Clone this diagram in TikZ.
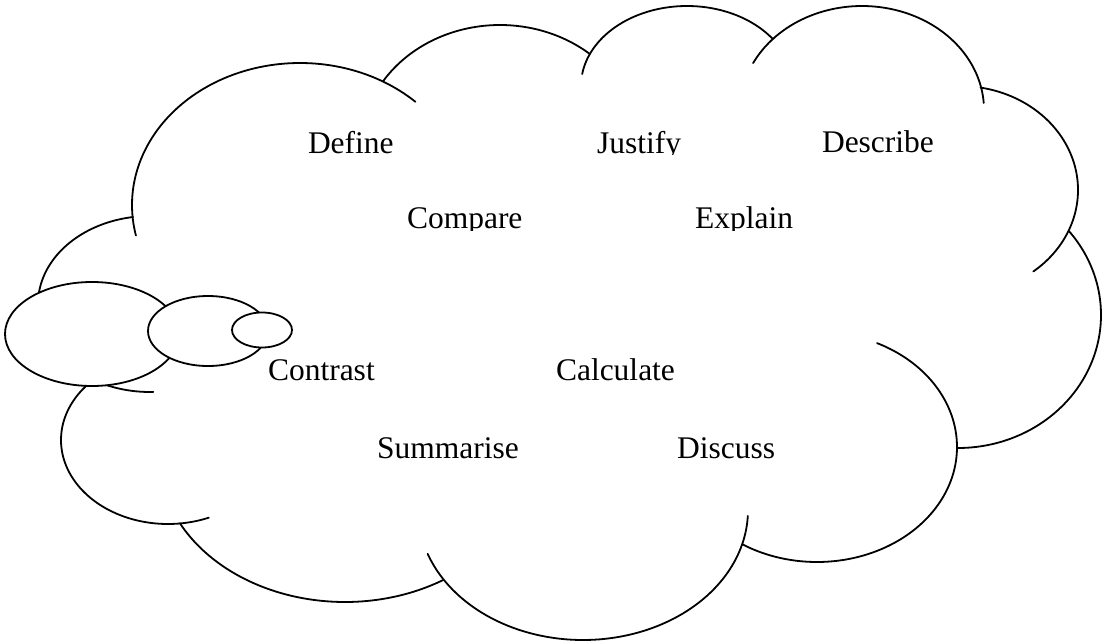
\documentclass[tikz,border=0pt]{standalone}
\usepackage{fontspec}
\setmainfont{Liberation Serif}
\newcommand{\cloudarc}[6]{\draw[cloudline] plot[domain=#5:#6, samples=90, smooth] ({#1+#3*cos(\x)},{#2+#4*sin(\x)});}
\begin{document}
\begin{tikzpicture}[x=0.5pt, y=-0.5pt,
  cloudline/.style={line width=0.9pt, black, line cap=round},
  bubble/.style={line width=0.9pt, draw=black, fill=white},
  word/.style={anchor=base west, inner sep=0pt, outer sep=0pt, font=\fontsize{15.75}{19}\selectfont}]
\useasboundingbox (0,0) rectangle (1102,642);
% cloud lobes (centre x, centre y, x radius, y radius, start, end)
\cloudarc{300}{205}{168}{142}{167.6}{313.4}
\cloudarc{500}{147.5}{139}{122.5}{212.8}{310.3}
\cloudarc{687}{86}{106}{80}{188.6}{324.1}
\cloudarc{862}{110}{122}{104}{206.8}{356.1}
\cloudarc{960}{190}{118}{104}{-80}{51.6}
\cloudarc{958}{315}{143}{133}{-39.1}{90}
\cloudarc{817}{447}{140}{115}{-64.6}{122.2}
\cloudarc{583}{510}{165}{130}{2.6}{160.3}
\cloudarc{345}{456}{186}{146}{58.2}{152.6}
\cloudarc{168}{440}{107}{84}{67.6}{230}
\cloudarc{150}{304}{112}{88}{88.3}{261.3}
% thought bubbles
\filldraw[bubble] (92,334) ellipse [x radius=87, y radius=52];
\filldraw[bubble] (208,331) ellipse [x radius=60, y radius=35];
\filldraw[bubble] (262,330) ellipse [x radius=30, y radius=17.5];
% words
\node[word] (define) at (308,153) {Define};
\begin{scope}
  \clip (580,100) rectangle (710,154.5);
  \node[word] (justify) at (597,153) {Justify};
\end{scope}
\node[word] (describe) at (822,152) {Describe};
\begin{scope}
  \clip (395,180) rectangle (540,230);
  \node[word] (compare) at (407,228) {Compare};
\end{scope}
\begin{scope}
  \clip (685,180) rectangle (810,230);
  \node[word] (explain) at (695,228) {Explain};
\end{scope}
\node[word] (contrast) at (268,380) {Contrast};
\node[word] (calculate) at (556,380) {Calculate};
\node[word] (summarise) at (377,458) {Summarise};
\node[word] (discuss) at (677,458) {Discuss};
\end{tikzpicture}
\end{document}
